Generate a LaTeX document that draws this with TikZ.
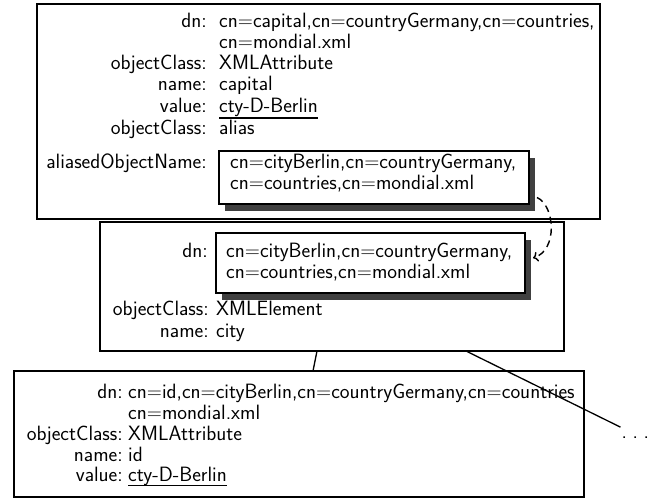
\documentclass[tikz,border=0pt]{standalone}
\usetikzlibrary{arrows.meta,shadows}
\newcommand\dtxt{\fontsize{20.7}{22}\selectfont\sffamily}
\begin{document}
\begin{tikzpicture}[x=1pt,y=-1pt,
  frame/.style={draw,line width=1.7pt,fill=white,inner sep=0pt,outer sep=0pt},
  dnbox/.style={frame,drop shadow={shadow xshift=6pt,shadow yshift=-6.5pt,fill=black!75,opacity=1}},
  lbl/.style={anchor=base east,inner sep=0pt,font=\dtxt},
  val/.style={anchor=base west,inner sep=0pt,font=\dtxt},
  uline/.style={line width=1.5pt},
  link/.style={line width=1.3pt},
  aliasarrow/.style={line width=1.4pt,dash pattern=on 7pt off 5pt,-{To[length=5pt,width=10pt]}}
]
\useasboundingbox (0,0) rectangle (663,499);

% ---------- top box ----------
\node[frame,minimum width=563pt,minimum height=215pt] (top) at (318.5,111.5) {};
\node[lbl] (tdnl) at (207,27) {dn:};
\node[val] (tdn1) at (219,27) {cn=capital,cn=countryGermany,cn=countries,};
\node[val] (tdn2) at (219,48) {cn=mondial.xml};
\node[lbl] (toc1l) at (207,69) {objectClass:};
\node[val] (toc1) at (219,69) {XMLAttribute};
\node[lbl] (tnml) at (207,90) {name:};
\node[val] (tnm) at (219,90) {capital};
\node[lbl] (tvll) at (207,112) {value:};
\node[val] (tvl) at (219,112) {cty-D-Berlin};
\draw[uline] ([yshift=-6pt]tvl.base west) -- ([yshift=-6pt]tvl.base east);
\node[lbl] (toc2l) at (207,134.5) {objectClass:};
\node[val] (toc2) at (219,134.5) {alias};
\node[lbl] (tanl) at (207,168) {aliasedObjectName:};
\node[dnbox,minimum width=310pt,minimum height=53pt] (tin) at (374,177.5) {};
\node[val] (tin1) at (230,168) {cn=cityBerlin,cn=countryGermany,};
\node[val] (tin2) at (230,189) {cn=countries,cn=mondial.xml};

% ---------- middle box ----------
\node[frame,minimum width=464pt,minimum height=129pt] (mid) at (332,286.5) {};
\node[lbl] (mdnl) at (208,257) {dn:};
\node[dnbox,minimum width=309pt,minimum height=60pt] (min) at (370.5,263) {};
\node[val] (min1) at (226,257) {cn=cityBerlin,cn=countryGermany,};
\node[val] (min2) at (226,278) {cn=countries,cn=mondial.xml};
\node[lbl] (mocl) at (209,315) {objectClass:};
\node[val] (moc) at (216,315) {XMLElement};
\node[lbl] (mnml) at (209,337) {name:};
\node[val] (mnm) at (216,337) {city};

% ---------- bottom box ----------
\node[frame,minimum width=570pt,minimum height=126pt] (bot) at (299,434) {};
\node[lbl] (bdnl) at (123,398) {dn:};
\node[val] (bdn1) at (128,398) {cn=id,cn=cityBerlin,cn=countryGermany,cn=countries};
\node[val] (bdn2) at (128,419) {cn=mondial.xml};
\node[lbl] (bocl) at (123,440) {objectClass:};
\node[val] (boc) at (128,440) {XMLAttribute};
\node[lbl] (bnml) at (123,461) {name:};
\node[val] (bnm) at (128,461) {id};
\node[lbl] (bvll) at (123,481) {value:};
\node[val] (bvl) at (128,481) {cty-D-Berlin};
\draw[uline] ([yshift=-4.5pt]bvl.base west) -- ([yshift=-4.5pt]bvl.base east);

\node[val] (more) at (621.5,438) {.\hspace{5.5pt}.\hspace{5.5pt}.};

% ---------- connectors ----------
\draw[link] ([xshift=-15pt]mid.south) -- ([xshift=14pt]bot.north);
\draw[link] ([xshift=134pt]mid.south) -- ([xshift=-1pt,yshift=9pt]more.north west);
\draw[aliasarrow] ([xshift=8pt,yshift=-20pt]tin.east) .. controls +(18,8) and +(25,-8) .. ([xshift=8pt,yshift=5pt]min.east);
\end{tikzpicture}
\end{document}
